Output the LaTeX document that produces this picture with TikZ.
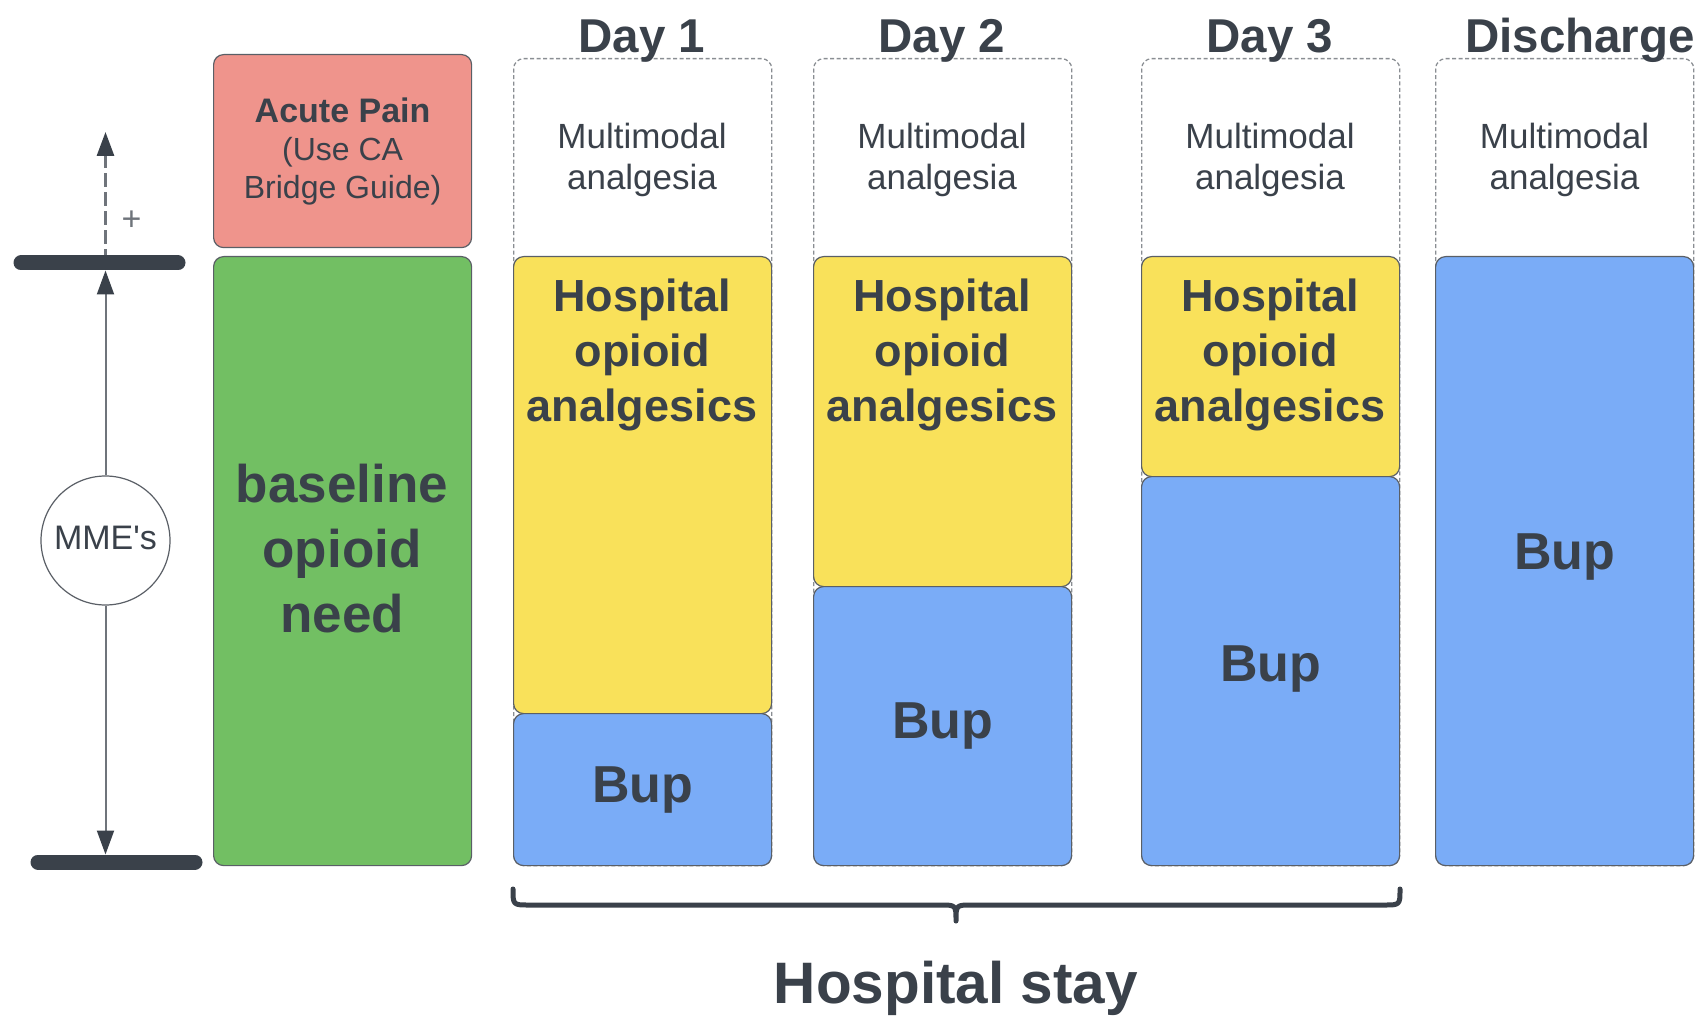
\documentclass[tikz,border=0pt]{standalone}
\usepackage{fontspec}
\setmainfont{Liberation Sans}
\usetikzlibrary{arrows.meta}
\definecolor{txt}{HTML}{3A414A}
\definecolor{salmon}{HTML}{EF948C}
\definecolor{grn}{HTML}{72BF63}
\definecolor{ylw}{HTML}{F9E15A}
\definecolor{blu}{HTML}{7AACF7}
\definecolor{edge}{HTML}{5A5F66}
\definecolor{dashgray}{HTML}{8A8E93}
\definecolor{axisgray}{HTML}{6F747B}
\begin{document}
\begin{tikzpicture}[x=1pt,y=-1pt,
  box/.style={draw=edge, line width=1.2pt, rounded corners=10pt, inner sep=0pt,
    anchor=north west, minimum width=258pt, text=txt},
  colframe/.style={draw=dashgray, line width=1.3pt, dash pattern=on 4pt off 2.5pt,
    rounded corners=10pt, inner sep=0pt, anchor=north west,
    minimum width=258pt, minimum height=807pt},
  hdr/.style={anchor=base, inner sep=0pt, text=txt,
    font=\fontsize{47.5}{57}\selectfont\bfseries},
  mm/.style={align=center, inner sep=0pt, text=txt,
    font=\fontsize{35}{41}\selectfont},
  hosp/.style={align=center, inner sep=0pt, text=txt,
    font=\fontsize{45}{55}\selectfont\bfseries},
  bigtxt/.style={align=center, inner sep=0pt, text=txt,
    font=\fontsize{53}{65}\selectfont\bfseries},
  bup/.style={font=\fontsize{52}{60}\selectfont\bfseries},
  bar/.style={draw=txt, line width=15pt, line cap=round},
  axisline/.style={draw=axisgray, line width=2pt},
  dashline/.style={draw=axisgray, line width=3pt, dash pattern=on 14pt off 5pt},
  tip/.style={-{Triangle[length=24pt,width=17pt,color=txt]}},
  brace/.style={draw=txt, line width=5pt, line cap=round, line join=round}
]
\useasboundingbox (0,0) rectangle (1705,1016);

% column frames
\node[colframe] (c1) at (513,58) {};
\node[colframe] (c2) at (813,58) {};
\node[colframe] (c3) at (1141,58) {};
\node[colframe] (c4) at (1435,58) {};

% left column
\node[box, fill=salmon, minimum height=193pt, align=center,
  font=\fontsize{32}{38}\selectfont] (acute) at (213,54)
  {{\fontsize{34}{38}\selectfont\bfseries Acute Pain}\\(Use CA\\Bridge Guide)};
\node[box, fill=grn, minimum height=609pt] (green) at (213,256) {};
\node[bigtxt] (gt) at (342,549) {baseline\\opioid\\need};

% day columns
\node[box, fill=ylw, minimum height=457pt] (y1) at (513,256) {};
\node[box, fill=blu, minimum height=152pt, bup] (b1) at (513,713) {Bup};
\node[box, fill=ylw, minimum height=330pt] (y2) at (813,256) {};
\node[box, fill=blu, minimum height=279pt, bup] (b2) at (813,586) {Bup};
\node[box, fill=ylw, minimum height=220pt] (y3) at (1141,256) {};
\node[box, fill=blu, minimum height=389pt, bup, text depth=15pt] (b3) at (1141,476) {Bup};
\node[box, fill=blu, minimum height=609pt, bup, text depth=19pt] (b4) at (1435,256) {Bup};

\node[hosp] (t1) at (642,354.5) {Hospital\\opioid\\analgesics};
\node[hosp] (t2) at (942,354.5) {Hospital\\opioid\\analgesics};
\node[hosp] (t3) at (1270,354.5) {Hospital\\opioid\\analgesics};

\node[mm] (m1) at (642,159.6) {Multimodal\\analgesia};
\node[mm] (m2) at (942,159.6) {Multimodal\\analgesia};
\node[mm] (m3) at (1270,159.6) {Multimodal\\analgesia};
\node[mm] (m4) at (1564.5,159.6) {Multimodal\\analgesia};

% headers
\node[hdr] (h1) at (642,53) {Day 1};
\node[hdr] (h2) at (942,53) {Day 2};
\node[hdr] (h3) at (1270,53) {Day 3};
\node[hdr] (h4) at (1580,53) {Discharge};

% axis
\coordinate (tbL) at (21,263);
\coordinate (tbR) at (178,263);
\coordinate (tbM) at (105.5,263);
\coordinate (bbL) at (38,862);
\coordinate (bbR) at (195,862);
\coordinate (bbM) at (105.5,862);
\coordinate (dtip) at (105.5,132);
\node[circle, draw=edge, line width=1.2pt, fill=white, minimum size=129pt,
  inner sep=0pt, text=txt, text height=24pt, text depth=6pt,
  font=\fontsize{34}{40}\selectfont] (mme) at (105.5,540.5) {MME\textquotesingle s};
\draw[axisline, tip, shorten >=7.5pt] (mme) -- (tbM);
\draw[axisline, tip, shorten >=7.5pt] (mme) -- (bbM);
\draw[dashline, tip] (tbM) -- (dtip);
\draw[bar] (tbL) -- (tbR);
\draw[bar] (bbL) -- (bbR);
\node[text=axisgray, inner sep=0pt, font=\fontsize{34}{40}\selectfont] (plus) at (131.5,221) {+};

% brace
\coordinate (brL) at (513,889);
\coordinate (brR) at (1400,889);
\coordinate (brT) at (956,921);
\draw[brace] (brL) .. controls (513,905) .. (529,905) -- (940,905)
  .. controls (956,905) .. (brT) .. controls (956,905) .. (972,905)
  -- (1384,905) .. controls (1400,905) .. (brR);
\node[anchor=base, inner sep=0pt, text=txt, font=\fontsize{58.5}{70}\selectfont\bfseries]
  (stay) at (956,1003) {Hospital stay};
\end{tikzpicture}
\end{document}
